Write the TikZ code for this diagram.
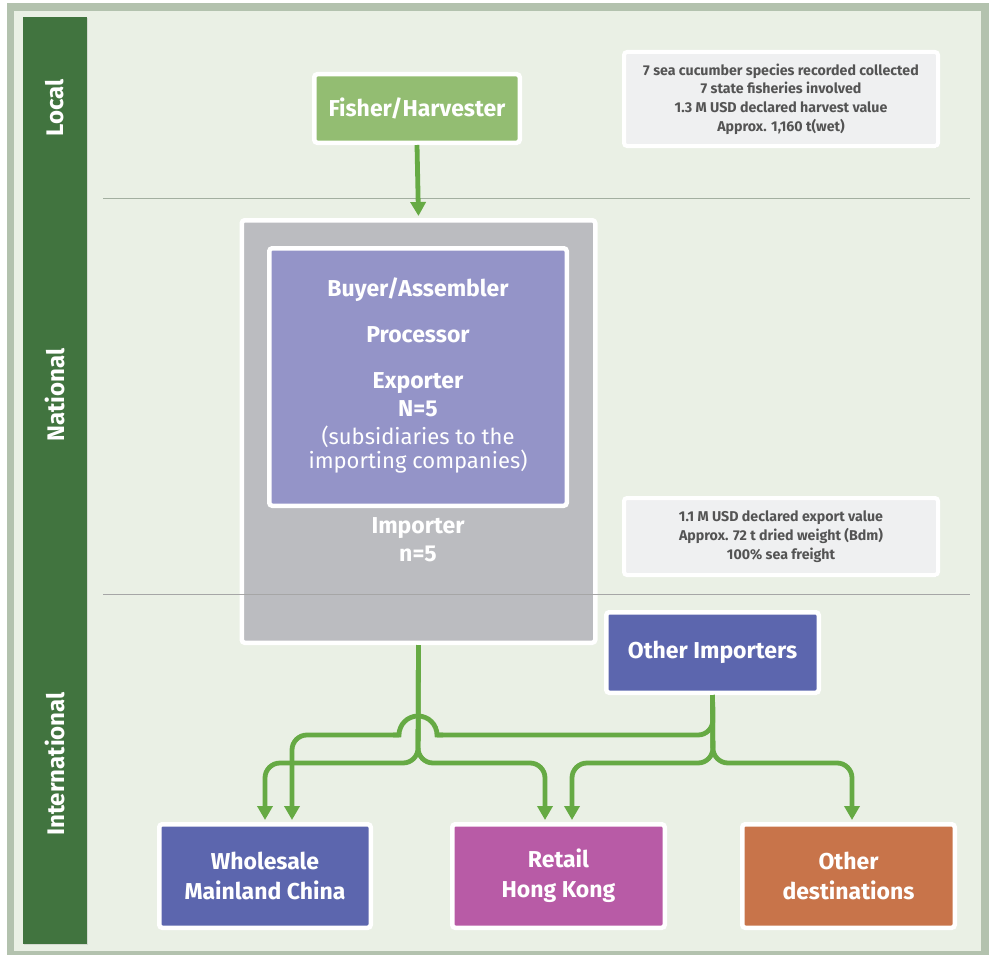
\documentclass[tikz,border=0pt]{standalone}
\usepackage{fontspec}
\setmainfont{Fira Sans}
\usetikzlibrary{arrows.meta,shadows,calc}
\definecolor{framec}{HTML}{B3C2AE}
\definecolor{bgc}{HTML}{EAF0E5}
\definecolor{sidec}{HTML}{41743F}
\definecolor{sepc}{HTML}{A3AFA0}
\definecolor{fisherc}{HTML}{93BD72}
\definecolor{infofill}{HTML}{EFF0F1}
\definecolor{infotext}{HTML}{545454}
\definecolor{grayc}{HTML}{BBBCC0}
\definecolor{purplec}{HTML}{9494C8}
\definecolor{bluec}{HTML}{5C66AE}
\definecolor{magc}{HTML}{B85BA6}
\definecolor{orangec}{HTML}{C8744A}
\definecolor{flowc}{HTML}{66AA44}
\tikzset{
  boxed/.style={draw=white, line width=4.5pt, rounded corners=3pt, text=white,
    font=\bfseries\fontsize{23}{30}\selectfont, align=center, inner sep=0pt,
    drop shadow={shadow xshift=1.2pt, shadow yshift=-1.5pt, opacity=0.25, fill=black}},
  infobox/.style={boxed, fill=infofill, text=infotext, line width=4pt,
    font=\bfseries\fontsize{14.2}{18.7}\selectfont},
  sidelabel/.style={rotate=90, text=white, font=\bfseries\fontsize{24}{28}\selectfont, inner sep=0pt},
  wtext/.style={text=white, inner sep=0pt, font=\bfseries\fontsize{23}{28}\selectfont},
  flow/.style={draw=flowc, line width=4.8pt, rounded corners=15pt},
  arrowed/.style={-{Triangle[width=15pt,length=14pt]}, shorten >=2pt},
  sepline/.style={draw=sepc, line width=1pt}
}
\begin{document}
\begin{tikzpicture}[x=1pt,y=-1pt]
\useasboundingbox (0,0) rectangle (992,955);
\fill[white] (0,0) rectangle (992,955);
\fill[framec] (7,3) rectangle (989,955);
\fill[bgc] (14,11) rectangle (981,951);
% sidebar
\fill[sidec, drop shadow={shadow xshift=1pt, shadow yshift=-1pt, opacity=0.2}] (23,17) rectangle (87,944);
\node[sidelabel] (lloc) at (55,108) {Local};
\node[sidelabel] (lnat) at (55,395) {National};
\node[sidelabel] (lint) at (55,764) {International};
% separators
\draw[sepline] (103,198) -- (970,198);
% boxes
\node[boxed, fill=fisherc, minimum width=205.5pt, minimum height=68.5pt] (fh) at (417,108.5) {Fisher/Harvester};
\node[infobox, minimum width=314pt, minimum height=94pt] (inf1) at (781,99)
  {7 sea cucumber species recorded collected\\7 state fisheries involved\\1.3 M USD declared harvest value\\Approx. 1,160 t(wet)};
\node[boxed, fill=grayc, minimum width=353.5pt, minimum height=422.5pt] (big) at (418.5,431.5) {};
\node[boxed, fill=purplec, minimum width=297.5pt, minimum height=257.5pt] (pur) at (418,377) {};
\node[wtext] (t1) at (418,290) {Buyer/Assembler};
\node[wtext] (t2) at (418,335) {Processor};
\node[wtext] (t3) at (418,383) {Exporter};
\node[wtext] (t4) at (418,409) {N=5};
\node[wtext, font=\fontsize{22}{26}\selectfont] (t5) at (418,437) {(subsidiaries to the};
\node[wtext, font=\fontsize{22}{26}\selectfont] (t6) at (418,462) {importing companies)};
\node[wtext] (t7) at (418,528) {Importer};
\node[wtext] (t8) at (418,554) {n=5};
\draw[sepline, draw=black!35] (103,594) -- (970,594);
\node[infobox, minimum width=314pt, minimum height=77pt] (inf2) at (781,536.5)
  {1.1 M USD declared export value\\Approx. 72 t dried weight (Bdm)\\100\% sea freight};
\node[boxed, fill=bluec, minimum width=212.5pt, minimum height=80.5pt] (oi) at (712.5,652.5) {Other Importers};
\node[boxed, fill=bluec, minimum width=211.5pt, minimum height=103.5pt] (wh) at (265,876) {Wholesale\\Mainland China};
\node[boxed, fill=magc, minimum width=212.5pt, minimum height=103.5pt] (rt) at (558.5,876) {Retail\\Hong Kong};
\node[boxed, fill=orangec, minimum width=212.5pt, minimum height=103.5pt] (od) at (848.5,876) {Other\\destinations};
% connectors
\coordinate (j1) at (418,763);
\coordinate (j2) at (713,763);
\coordinate (h) at (713,735);
\coordinate (hopR) at (437,735);
\coordinate (hopL) at (399,735);
\coordinate (whR) at ([xshift=27pt]wh.north);
\coordinate (rtL) at ([xshift=-13.5pt]rt.north);
\coordinate (rtR) at ([xshift=13.5pt]rt.north);
\coordinate (odN) at ([xshift=3.5pt]od.north);
\draw[flow, arrowed] (fh.south) -- (big.north);
\draw[flow, arrowed] (big.south) -- (j1) -- (j1 -| wh.north) -- (wh.north);
\draw[flow, arrowed] (big.south) -- (j1) -- (j1 -| rtL) -- (rtL);
\draw[flow, arrowed] (oi.south) -- (j2) -- (j2 -| rtR) -- (rtR);
\draw[flow, arrowed] (oi.south) -- (j2) -- (j2 -| odN) -- (odN);
\draw[flow] (oi.south) -- (h) -- (hopR);
\draw[flow, sharp corners, line join=miter] ($(hopR)+(6,0)$) -- (hopR) arc[start angle=0, end angle=180, radius=19pt] -- ($(hopL)+(-6,0)$);
\draw[flow, arrowed] (hopL) -- (hopL -| whR) -- (whR);
\end{tikzpicture}
\end{document}
